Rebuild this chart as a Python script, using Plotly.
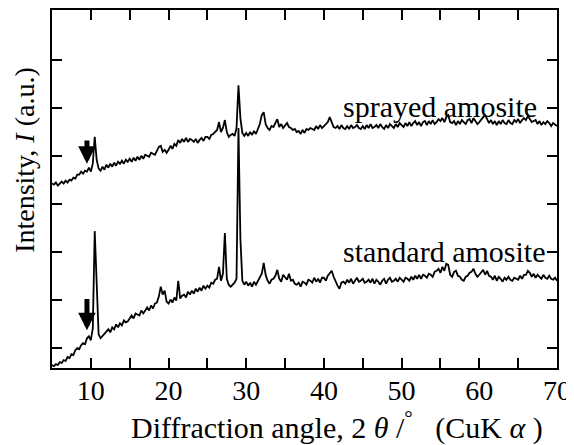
import plotly.graph_objects as go

# 2-theta sampling of the digitised patterns (degrees)
ANGLE_START = 5.0
ANGLE_STEP = 0.25

# intensity, arbitrary units (one row = 5 degrees)
STANDARD = [
    -17, -18, -16, -17, -14, -15, -12, -13, -9, -10, -6, -7, -2, 0, -1, 3, 5, 4, 10, 12,
    8, 20, 118, 55, 14, 10, 12, 15, 16, 19, 16, 21, 19, 24, 21, 25, 23, 28, 26, 27,
    30, 33, 30, 35, 34, 33, 38, 35, 38, 41, 38, 43, 40, 45, 46, 52, 62, 54, 58, 47,
    45, 49, 46, 51, 48, 68, 50, 53, 54, 51, 57, 54, 58, 55, 60, 57, 61, 58, 63, 60,
    63, 61, 66, 65, 69, 70, 82, 68, 75, 116, 70, 64, 62, 64, 66, 70, 222, 110, 68, 64,
    67, 63, 66, 62, 67, 64, 68, 71, 75, 86, 74, 68, 65, 69, 70, 73, 79, 70, 67, 74,
    72, 69, 75, 68, 69, 65, 64, 66, 62, 67, 66, 64, 69, 68, 66, 71, 67, 70, 66, 71,
    71, 68, 73, 76, 78, 72, 67, 63, 60, 66, 67, 65, 69, 66, 70, 65, 68, 71, 67, 68,
    70, 66, 67, 69, 66, 70, 65, 69, 67, 64, 68, 70, 65, 69, 71, 67, 68, 70, 67, 71,
    69, 67, 71, 70, 68, 72, 69, 73, 70, 74, 70, 74, 73, 71, 75, 74, 72, 77, 78, 80,
    76, 82, 78, 85, 84, 74, 72, 77, 78, 73, 72, 69, 68, 72, 73, 76, 77, 80, 75, 72,
    74, 77, 79, 74, 78, 73, 72, 69, 73, 68, 72, 70, 67, 71, 69, 72, 69, 68, 71, 70,
    69, 73, 70, 74, 74, 78, 76, 72, 75, 71, 74, 72, 70, 74, 71, 70, 73, 70, 69, 71,
    68,
]

SPRAYED = [
    166, 165, 167, 164, 166, 168, 166, 169, 167, 170, 169, 172, 171, 175, 175, 178, 176, 179, 178, 182,
    178, 186, 213, 190, 181, 179, 183, 180, 185, 182, 186, 183, 187, 184, 188, 186, 189, 186, 190, 188,
    191, 188, 192, 189, 193, 190, 194, 191, 195, 194, 193, 197, 196, 195, 199, 203, 204, 198, 200, 197,
    200, 204, 201, 206, 204, 210, 207, 211, 208, 212, 208, 211, 210, 208, 211, 207, 210, 212, 209, 213,
    213, 211, 215, 216, 218, 220, 228, 218, 222, 230, 218, 213, 215, 216, 214, 222, 265, 232, 217, 214,
    217, 214, 218, 215, 219, 216, 221, 226, 235, 238, 226, 222, 220, 224, 223, 228, 231, 223, 226, 222,
    225, 227, 223, 222, 220, 221, 218, 219, 216, 220, 217, 221, 220, 222, 221, 220, 224, 221, 225, 222,
    224, 226, 228, 233, 228, 223, 222, 224, 221, 225, 222, 221, 224, 221, 225, 222, 223, 225, 222, 221,
    224, 221, 225, 222, 226, 222, 223, 225, 222, 226, 223, 221, 225, 222, 226, 224, 222, 226, 223, 227,
    225, 223, 227, 224, 228, 224, 227, 229, 225, 228, 224, 228, 229, 225, 229, 226, 230, 226, 228, 231,
    229, 232, 228, 233, 235, 228, 227, 229, 225, 229, 226, 230, 228, 226, 230, 231, 227, 232, 229, 226,
    228, 231, 233, 235, 230, 227, 230, 226, 229, 225, 229, 226, 230, 227, 226, 230, 227, 226, 230, 228,
    231, 227, 230, 232, 230, 234, 231, 228, 229, 230, 226, 229, 225, 228, 226, 229, 227, 224, 227, 225,
    224,
]

LABELS = ['sprayed amosite', 'standard amosite']
X_TICKS = [5, 10, 15, 20, 25, 30, 35, 40, 45, 50, 55, 60, 65, 70]
X_TICK_TEXT = [' ', '10', ' ', '20', ' ', '30', ' ', '40', ' ', '50', ' ', '60', ' ', '70']
Y_TICKS = [0, 48.5, 97, 145.5, 194, 242.5, 291]

FONT = 'Liberation Serif, Times New Roman, serif'

fig = go.Figure()
for series in (SPRAYED, STANDARD):
    fig.add_trace(go.Scatter(x0=ANGLE_START, dx=ANGLE_STEP, y=series, mode='lines',
                             line=dict(color='black', width=1.8), showlegend=False))

# arrows marking the small peak near 9.5 deg
for tip, tail in ((186, 211), (18, 51)):
    fig.add_annotation(x=9.5, y=tip, ax=9.5, ay=tail, xref='x', yref='y', axref='x', ayref='y',
                       text='', showarrow=True, arrowhead=2, arrowsize=0.7, arrowwidth=5,
                       arrowcolor='black')

fig.add_annotation(x=54.9, y=244, xref='x', yref='y', text=LABELS[0], showarrow=False,
                   xanchor='center', yanchor='middle',
                   font=dict(size=30, color='black', family=FONT))
fig.add_annotation(x=55.5, y=97, xref='x', yref='y', text=LABELS[1], showarrow=False,
                   xanchor='center', yanchor='middle',
                   font=dict(size=30, color='black', family=FONT))

fig.add_annotation(x=0.564, y=-0.162, xref='paper', yref='paper', showarrow=False,
                   xanchor='center', yanchor='middle',
                   text='Diffraction angle, 2 <i>θ</i> /<sup>°</sup>\u00a0\u00a0 (CuK <i>α</i> )',
                   font=dict(size=30, color='black', family=FONT))
fig.add_annotation(x=-0.055, y=0.582, xref='paper', yref='paper', showarrow=False, textangle=-90,
                   xanchor='center', yanchor='middle',
                   text='Intensity, <i>I</i> (a.u.)',
                   font=dict(size=28, color='black', family=FONT))

fig.update_xaxes(range=[5, 70], tickmode='array', tickvals=X_TICKS, ticktext=X_TICK_TEXT,
                 ticks='inside', ticklen=10, tickwidth=1.5, tickcolor='black',
                 showline=True, linewidth=2, linecolor='black', mirror='allticks',
                 showgrid=False, zeroline=False, ticklabelstandoff=-4,
                 tickfont=dict(size=28, color='black', family=FONT))
fig.update_yaxes(range=[-20, 341], tickmode='array', tickvals=Y_TICKS, showticklabels=False,
                 ticks='inside', ticklen=10, tickwidth=1.5, tickcolor='black',
                 showline=True, linewidth=2, linecolor='black', mirror='allticks',
                 showgrid=False, zeroline=False)

# page body keeps its default 8px margin, so the figure is sized to fit the window
fig.update_layout(width=566, height=437, margin=dict(l=44, r=17, t=0, b=77),
                  paper_bgcolor='white', plot_bgcolor='white')

fig.write_html("out.html")
